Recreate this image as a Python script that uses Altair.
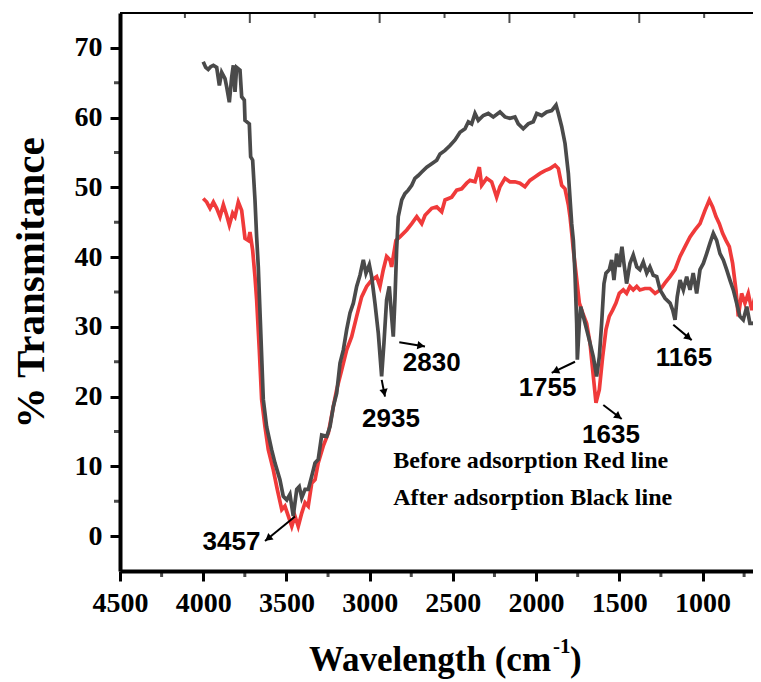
import math
import pandas as pd
import altair as alt

# ---------------- data ----------------
after_w = [4000, 3985, 3970, 3955, 3939, 3919, 3903, 3889, 3869, 3859, 3843, 3829, 3819, 3809, 3799,
           3779, 3769, 3753, 3749, 3723, 3715, 3703, 3689, 3679, 3669, 3657, 3639, 3619, 3589, 3569,
           3539, 3519, 3498, 3479, 3459, 3438, 3423, 3408, 3388, 3369, 3348, 3328, 3309, 3288, 3258,
           3238, 3218, 3198, 3178, 3158, 3138, 3118, 3098, 3078, 3058, 3038, 3022, 3002, 2988, 2968,
           2948, 2928, 2914, 2898, 2882, 2868, 2858, 2848, 2838, 2828, 2807, 2788, 2768, 2747, 2728,
           2708, 2687, 2657, 2627, 2597, 2577, 2547, 2517, 2487, 2457, 2427, 2407, 2387, 2367, 2347,
           2317, 2287, 2257, 2217, 2187, 2157, 2127, 2107, 2077, 2047, 2017, 1996, 1966, 1936, 1906,
           1880, 1866, 1846, 1826, 1806, 1786, 1776, 1766, 1756, 1752, 1740, 1732, 1716, 1696, 1676,
           1656, 1636, 1620, 1606, 1592, 1580, 1560, 1546, 1532, 1516, 1500, 1484, 1472, 1456, 1436,
           1416, 1395, 1376, 1356, 1335, 1316, 1296, 1275, 1255, 1225, 1195, 1179, 1165, 1152, 1135,
           1115, 1095, 1075, 1056, 1035, 1015, 995, 975, 955, 935, 915, 895, 875, 855, 835,
           815, 795, 775, 755, 734, 715, 695, 674, 659, 648]
after_t = [68.0, 67.2, 66.9, 67.3, 67.5, 67.2, 64.6, 66.5, 65.6, 64.4, 62.2, 65.8, 67.5, 63.7, 67.2,
           66.8, 63.0, 62.5, 59.6, 59.1, 54.4, 53.9, 48.2, 42.9, 38.6, 31.0, 19.6, 15.7, 12.4, 10.5,
           8.1, 5.7, 5.2, 6.0, 2.9, 6.7, 7.1, 5.5, 6.7, 6.7, 8.6, 10.5, 11.0, 14.5, 14.3,
           15.7, 18.6, 20.5, 24.8, 26.7, 29.6, 32.0, 33.4, 35.8, 37.4, 39.6, 37.7, 38.9, 37.2, 33.4,
           29.1, 22.9, 27.7, 33.9, 35.8, 31.5, 28.6, 33.9, 41.0, 45.8, 48.2, 49.1, 49.6, 50.3, 51.3,
           51.7, 52.2, 52.9, 53.4, 53.9, 54.8, 55.3, 56.0, 56.8, 57.9, 58.4, 59.4, 59.1, 60.6, 59.6,
           60.3, 60.6, 60.1, 60.8, 60.1, 59.9, 60.1, 59.1, 58.4, 59.1, 59.4, 60.6, 60.3, 60.8, 61.0,
           61.8, 60.6, 58.7, 56.3, 52.0, 44.8, 42.4, 37.5, 30.5, 25.3, 30.5, 32.9, 31.5, 29.6, 27.7,
           25.7, 22.9, 25.7, 30.5, 36.2, 37.7, 38.2, 39.6, 36.7, 40.5, 38.6, 41.5, 39.1, 36.2, 39.1,
           40.3, 38.6, 38.2, 39.3, 37.7, 38.6, 37.4, 37.2, 35.3, 34.1, 33.4, 32.4, 31.0, 34.3, 36.7,
           35.3, 37.2, 35.3, 37.7, 34.8, 38.2, 39.1, 40.5, 42.0, 43.4, 42.4, 40.5, 39.6, 38.2, 36.7,
           35.3, 33.4, 31.5, 31.0, 32.9, 30.5, 30.5, 31.0, 35.8, 36.0]

before_w = [4000, 3979, 3959, 3939, 3919, 3899, 3879, 3859, 3843, 3823, 3809, 3789, 3769, 3749, 3729,
            3719, 3703, 3689, 3679, 3663, 3649, 3629, 3609, 3579, 3555, 3528, 3509, 3489, 3468, 3449,
            3429, 3408, 3388, 3369, 3348, 3328, 3309, 3279, 3248, 3218, 3198, 3168, 3138, 3108, 3078,
            3048, 3018, 2988, 2958, 2938, 2918, 2898, 2878, 2868, 2842, 2818, 2777, 2747, 2717, 2687,
            2667, 2627, 2597, 2567, 2547, 2507, 2477, 2447, 2417, 2397, 2367, 2341, 2327, 2297, 2267,
            2237, 2217, 2187, 2157, 2127, 2097, 2067, 2037, 2007, 1976, 1946, 1916, 1886, 1866, 1846,
            1826, 1806, 1796, 1786, 1776, 1760, 1740, 1720, 1696, 1676, 1656, 1640, 1620, 1600, 1580,
            1560, 1540, 1520, 1500, 1476, 1456, 1436, 1416, 1395, 1376, 1346, 1316, 1285, 1255, 1225,
            1195, 1165, 1135, 1105, 1075, 1045, 1015, 985, 959, 939, 919, 899, 879, 859, 839,
            819, 799, 785, 765, 745, 725, 704, 685, 665, 655, 648]
before_t = [48.4, 47.9, 47.0, 47.9, 47.0, 45.8, 47.5, 46.0, 44.6, 46.3, 45.8, 47.9, 46.7, 42.7, 42.4,
            43.6, 41.0, 37.2, 33.9, 26.7, 19.6, 15.7, 12.4, 9.5, 6.7, 3.8, 4.3, 2.9, 1.4, 2.9,
            1.4, 3.3, 4.8, 4.3, 7.6, 8.1, 10.5, 12.9, 14.8, 18.6, 21.0, 23.8, 26.7, 28.6, 31.5,
            34.3, 35.8, 36.7, 37.2, 35.8, 38.2, 40.1, 39.6, 38.6, 42.4, 42.9, 43.9, 44.8, 45.8, 44.8,
            46.0, 47.0, 47.2, 46.5, 48.2, 48.6, 49.6, 49.8, 50.6, 51.0, 50.8, 52.9, 50.3, 51.3, 50.8,
            48.6, 50.1, 51.3, 50.8, 50.8, 50.6, 50.1, 51.0, 51.5, 52.0, 52.4, 52.7, 53.2, 52.7, 50.3,
            49.8, 47.5, 45.8, 43.5, 41.0, 37.7, 33.4, 32.0, 30.5, 27.7, 22.9, 19.1, 21.0, 25.7, 29.6,
            31.5, 32.4, 33.4, 34.8, 35.3, 34.8, 35.8, 35.3, 35.8, 35.3, 35.5, 35.5, 34.8, 35.3, 36.3,
            37.2, 38.2, 40.1, 41.5, 42.9, 43.9, 44.8, 46.7, 48.2, 47.2, 45.8, 44.8, 43.4, 42.4, 41.5,
            39.1, 35.3, 31.5, 34.8, 33.4, 34.8, 32.4, 34.3, 29.6, 28.1, 27.5]

x_ticks = [4500, 4000, 3500, 3000, 2500, 2000, 1500, 1000]
x_minor = [4250, 3750, 3250, 2750, 2250, 1750, 1250, 750]
y_ticks = [0, 10, 20, 30, 40, 50, 60, 70]
y_minor = [5, 15, 25, 35, 45, 55, 65]
top_major = [3720, 2940, 2160, 1380]
top_minor = [4110, 3330, 2550, 1770, 990]

peak_labels = ["3457", "2935", "2830", "1755", "1635", "1165"]
peak_label_x = [3830, 2872, 2627, 1931, 1550, 1111]
peak_label_y = [-0.8, 16.8, 24.8, 21.3, 14.5, 25.6]
arrow_tail_x = [3448.5, 2927.6, 2821.8, 1766.1, 1596.0, 1175.5]
arrow_tail_y = [2.8, 22.4, 27.8, 25.0, 18.8, 30.3]
arrow_head_x = [3628.8, 2907.8, 2667.4, 1906.1, 1485.5, 1064.9]
arrow_head_y = [-0.7, 20.0, 27.2, 23.4, 16.8, 28.1]

note_text = ["Before adsorption Red line", "After adsorption Black line"]
note_x = [2858, 2858]
note_y = [9.8, 4.4]

# ---------------- layout ----------------
PX_PER_UNIT = 582.5 / 3500.0        # horizontal pixels per cm-1 in the reference
W, H = 633, 558
X_HI = 4500
X_LO = X_HI - W / PX_PER_UNIT
Y_LO, Y_HI = -5, 75
kx = W / (X_HI - X_LO)
ky = H / (Y_HI - Y_LO)

SERIF = "Liberation Serif"
SANS = "Liberation Sans"
GRAY = "#4a4a4a"
RED = "#f03a3a"

x_scale = alt.Scale(domain=[X_LO, X_HI], reverse=True, nice=False, zero=False)
y_scale = alt.Scale(domain=[Y_LO, Y_HI], nice=False, zero=False)

axis_style = dict(
    title=None, labelFont=SERIF, labelFontWeight="bold", labelFontSize=28, labelColor="black",
    labelPadding=8, labelFlush=False, labelOverlap=False, tickSize=10, tickWidth=3,
    tickColor="black", domainWidth=4, domainColor="black", grid=False, format="d",
)
x_axis = alt.Axis(values=x_ticks, **axis_style)
y_axis = alt.Axis(values=y_ticks, **axis_style)


def X(field):
    return alt.X(field, type="quantitative", scale=x_scale, axis=x_axis)


def Y(field):
    return alt.Y(field, type="quantitative", scale=y_scale, axis=y_axis)


df_after = pd.DataFrame({"w": after_w, "t": after_t})
df_before = pd.DataFrame({"w": before_w, "t": before_t})

line_before = alt.Chart(df_before).mark_line(color=RED, strokeWidth=3.7, clip=True).encode(
    x=X("w"), y=Y("t"))
line_after = alt.Chart(df_after).mark_line(color=GRAY, strokeWidth=3.7, clip=True).encode(
    x=X("w"), y=Y("t"))

# top frame line (right side of the frame lies outside the picture)
top_line = alt.Chart(pd.DataFrame({"a": [0]})).mark_rule(color="black", strokeWidth=2).encode(
    x=alt.value(0), x2=alt.value(W), y=alt.value(0))

# minor ticks & top ticks
ymin = alt.Chart(pd.DataFrame({"v": y_minor})).mark_tick(
    orient="horizontal", color="black", thickness=3, size=6).encode(
    y=Y("v"), x=alt.value(-3))
xmin = alt.Chart(pd.DataFrame({"v": x_minor})).mark_tick(
    orient="vertical", color="black", thickness=3, size=6).encode(
    x=X("v"), y=alt.value(H + 3))
topmaj = alt.Chart(pd.DataFrame({"v": top_major})).mark_tick(
    orient="vertical", color="black", thickness=2, size=10).encode(
    x=X("v"), y=alt.value(5))
topmin = alt.Chart(pd.DataFrame({"v": top_minor})).mark_tick(
    orient="vertical", color="black", thickness=2, size=5).encode(
    x=X("v"), y=alt.value(2.5))

# arrows
rows = []
for tx, ty, hx, hy in zip(arrow_tail_x, arrow_tail_y, arrow_head_x, arrow_head_y):
    dxp = -(hx - tx) * kx
    dyp = -(hy - ty) * ky
    L = math.hypot(dxp, dyp)
    ux, uy = dxp / L, dyp / L
    ang = math.degrees(math.atan2(dxp, -dyp)) % 360
    back = 4.0
    px_ = hx + back * ux / kx
    py_ = hy + back * uy / ky
    rows.append({"x1": tx, "y1": ty, "x2": hx, "y2": hy, "px": px_, "py": py_, "ang": ang})
df_arr = pd.DataFrame(rows)

arrow_lines = alt.Chart(df_arr).mark_rule(color="black", strokeWidth=2).encode(
    x=X("x1"), y=Y("y1"), x2="x2", y2="y2")
arrow_heads = alt.Chart(df_arr).mark_point(
    shape="triangle-up", filled=True, size=70, color="black", opacity=1).encode(
    x=X("px"), y=Y("py"), angle=alt.Angle("ang:Q", scale=None))

df_lab = pd.DataFrame({"x": peak_label_x, "y": peak_label_y, "t": peak_labels})
peak_text = alt.Chart(df_lab).mark_text(
    font=SANS, fontWeight="bold", fontSize=26, color="black", align="center", baseline="middle").encode(
    x=X("x"), y=Y("y"), text="t:N")

df_note = pd.DataFrame({"x": note_x, "y": note_y, "t": note_text})
notes = alt.Chart(df_note).mark_text(
    font=SERIF, fontWeight="bold", fontSize=24, color="black", align="left", baseline="alphabetic").encode(
    x=X("x"), y=Y("y"), text="t:N")

# axis titles
ytitle = alt.Chart(pd.DataFrame({"t": ["% Transmitance"]})).mark_text(
    font=SERIF, fontWeight="bold", fontSize=41, color="black", angle=270,
    align="center", baseline="alphabetic").encode(
    x=alt.value(-76), y=alt.value(270), text="t:N")
xt_main = alt.Chart(pd.DataFrame({"t": ["Wavelength (cm"]})).mark_text(
    font=SERIF, fontWeight="bold", fontSize=35, color="black", align="left", baseline="alphabetic").encode(
    x=alt.value(189), y=alt.value(658), text="t:N")
xt_sup = alt.Chart(pd.DataFrame({"t": ["-1"]})).mark_text(
    font=SERIF, fontWeight="bold", fontSize=21, color="black", align="left", baseline="alphabetic").encode(
    x=alt.value(433), y=alt.value(640), text="t:N")
xt_close = alt.Chart(pd.DataFrame({"t": [")"]})).mark_text(
    font=SERIF, fontWeight="bold", fontSize=35, color="black", align="left", baseline="alphabetic").encode(
    x=alt.value(450), y=alt.value(658), text="t:N")

chart = alt.layer(
    line_before, line_after, top_line, ymin, xmin, topmaj, topmin,
    arrow_lines, arrow_heads, peak_text, notes, ytitle, xt_main, xt_sup, xt_close,
).properties(
    width=W, height=H,
    padding={"left": 112, "top": 5, "right": 0, "bottom": 111},
    autosize=alt.AutoSizeParams(type="none"),
).configure_view(
    strokeWidth=0
).configure(background="white")

chart.save("out.html", embed_options={"renderer": "svg", "actions": False})
